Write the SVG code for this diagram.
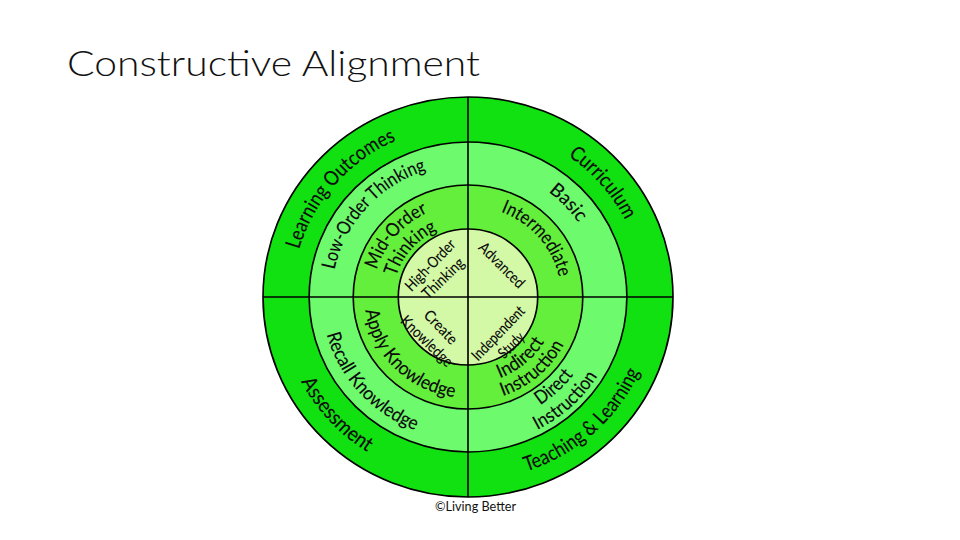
<svg xmlns="http://www.w3.org/2000/svg" xmlns:xlink="http://www.w3.org/1999/xlink" width="960" height="540" viewBox="0 0 960 540">
<style>
.ring{stroke:#000;stroke-width:1.6}
.r1{fill:#11e011}.r2{fill:#6dfa6d}.r3{fill:#63ef3b}.r4{fill:#d3f8a6}
.lbl{font-family:Lato,"Liberation Sans",Arial,sans-serif;font-weight:500;fill:#0d0d0d;font-size:19px}
.big{font-size:20.5px}
.sm{font-size:15.5px}
.div{stroke:#000;stroke-width:1.6;fill:none}
</style>
<defs>
<path id="p1" d="M -142.2 95.9 A 171.5 171.5 0 0 1 75.2 -154.1"/>
<path id="p2" d="M -75.2 -154.1 A 171.5 171.5 0 0 1 142.2 95.9"/>
<path id="p3" d="M -154.8 -98.6 A 183.5 183.5 0 0 0 84.7 162.8"/>
<path id="p4" d="M -99.9 153.9 A 183.5 183.5 0 0 0 163.5 -83.3"/>
<path id="p5" d="M -111.5 72.4 A 133 133 0 0 1 60.4 -118.5"/>
<path id="p6" d="M -63.5 -114.5 A 131 131 0 0 1 112.3 67.5"/>
<path id="p7" d="M -119.9 -77.9 A 143 143 0 0 0 64.9 127.4"/>
<path id="p8" d="M -68.4 109.4 A 129 129 0 0 0 113.9 -60.6"/>
<path id="p9" d="M -80.1 125.7 A 149 149 0 0 0 132.2 -68.8"/>
<path id="p10" d="M -77.1 52.0 A 93 93 0 0 1 40.8 -83.6"/>
<path id="p11" d="M -60.5 40.8 A 73 73 0 0 1 32.0 -65.6"/>
<path id="p12" d="M -39.9 -81.8 A 91 91 0 0 1 75.4 50.9"/>
<path id="p13" d="M -87.5 -50.5 A 101 101 0 0 0 50.5 87.5"/>
<path id="p14" d="M -49.9 71.3 A 87 87 0 0 0 78.8 -36.8"/>
<path id="p15" d="M -58.7 87.0 A 105 105 0 0 0 94.4 -46.0"/>
</defs>

<text x="67" y="76" font-family="Lato,'Liberation Sans',Arial,sans-serif" font-weight="300" font-size="36" fill="#111" textLength="413" lengthAdjust="spacingAndGlyphs">Constructive Alignment</text>

<g transform="translate(468,297) scale(1.025,1)">
  <g id="ring-outer">
    <circle class="ring r1" r="200"/>
    <text class="lbl big"><textPath xlink:href="#p1" href="#p1" startOffset="50%" text-anchor="middle" textLength="149" lengthAdjust="spacingAndGlyphs">Learning Outcomes</textPath></text>
    <text class="lbl big"><textPath xlink:href="#p2" href="#p2" startOffset="50%" text-anchor="middle" textLength="86" lengthAdjust="spacingAndGlyphs">Curriculum</textPath></text>
    <text class="lbl big"><textPath xlink:href="#p3" href="#p3" startOffset="50%" text-anchor="middle" textLength="97" lengthAdjust="spacingAndGlyphs">Assessment</textPath></text>
    <text class="lbl big"><textPath xlink:href="#p4" href="#p4" startOffset="50%" text-anchor="middle" textLength="153" lengthAdjust="spacingAndGlyphs">Teaching &amp; Learning</textPath></text>
  </g>
  <g id="ring-2">
    <circle class="ring r2" r="155"/>
    <text class="lbl"><textPath xlink:href="#p5" href="#p5" startOffset="50%" text-anchor="middle" textLength="140" lengthAdjust="spacingAndGlyphs">Low-Order Thinking</textPath></text>
    <text class="lbl"><textPath xlink:href="#p6" href="#p6" startOffset="50%" text-anchor="middle" textLength="43" lengthAdjust="spacingAndGlyphs">Basic</textPath></text>
    <text class="lbl"><textPath xlink:href="#p7" href="#p7" startOffset="50%" text-anchor="middle" textLength="134" lengthAdjust="spacingAndGlyphs">Recall Knowledge</textPath></text>
    <text class="lbl"><textPath xlink:href="#p8" href="#p8" startOffset="50%" text-anchor="middle" textLength="45" lengthAdjust="spacingAndGlyphs">Direct</textPath></text>
    <text class="lbl"><textPath xlink:href="#p9" href="#p9" startOffset="50%" text-anchor="middle" textLength="81" lengthAdjust="spacingAndGlyphs">Instruction</textPath></text>
  </g>
  <g id="ring-3">
    <circle class="ring r3" r="112"/>
    <text class="lbl"><textPath xlink:href="#p10" href="#p10" startOffset="50%" text-anchor="middle" textLength="78" lengthAdjust="spacingAndGlyphs">Mid-Order</textPath></text>
    <text class="lbl"><textPath xlink:href="#p11" href="#p11" startOffset="50%" text-anchor="middle" textLength="63" lengthAdjust="spacingAndGlyphs">Thinking</textPath></text>
    <text class="lbl"><textPath xlink:href="#p12" href="#p12" startOffset="50%" text-anchor="middle" textLength="90" lengthAdjust="spacingAndGlyphs">Intermediate</textPath></text>
    <text class="lbl"><textPath xlink:href="#p13" href="#p13" startOffset="50%" text-anchor="middle" textLength="132" lengthAdjust="spacingAndGlyphs">Apply Knowledge</textPath></text>
    <text class="lbl"><textPath xlink:href="#p14" href="#p14" startOffset="50%" text-anchor="middle" textLength="58" lengthAdjust="spacingAndGlyphs">Indirect</textPath></text>
    <text class="lbl"><textPath xlink:href="#p15" href="#p15" startOffset="50%" text-anchor="middle" textLength="81" lengthAdjust="spacingAndGlyphs">Instruction</textPath></text>
  </g>
  <g id="ring-inner">
    <circle class="ring r4" r="68"/>
  </g>
  <g id="dividers">
    <line class="div" x1="0" y1="-200" x2="0" y2="200"/>
    <line class="div" x1="-200" y1="0" x2="200" y2="0"/>
  </g>
</g>

<g id="inner-labels">
  <text class="lbl sm" transform="translate(430,265) rotate(-46)" y="5.5" text-anchor="middle" textLength="65" lengthAdjust="spacingAndGlyphs">High-Order</text>
  <text class="lbl sm" transform="translate(443,278) rotate(-44)" y="5.5" text-anchor="middle" textLength="52" lengthAdjust="spacingAndGlyphs">Thinking</text>
  <text class="lbl sm" transform="translate(502,265) rotate(45)" y="5.5" text-anchor="middle" textLength="58" lengthAdjust="spacingAndGlyphs">Advanced</text>
  <text class="lbl sm" transform="translate(441,327) rotate(46)" y="5.5" text-anchor="middle" textLength="41" lengthAdjust="spacingAndGlyphs">Create</text>
  <text class="lbl sm" transform="translate(427,341) rotate(44)" y="5.5" text-anchor="middle" textLength="66" lengthAdjust="spacingAndGlyphs">Knowledge</text>
  <text class="lbl sm" transform="translate(498,333) rotate(-46)" y="5.5" text-anchor="middle" textLength="69" lengthAdjust="spacingAndGlyphs">Independent</text>
  <text class="lbl sm" transform="translate(511,345) rotate(-45)" y="5.5" text-anchor="middle" textLength="30" lengthAdjust="spacingAndGlyphs">Study</text>
</g>

<text x="435" y="511" font-family="Lato,'Liberation Sans',Arial,sans-serif" font-size="12.5" fill="#111" textLength="81" lengthAdjust="spacingAndGlyphs">©Living Better</text>
</svg>
